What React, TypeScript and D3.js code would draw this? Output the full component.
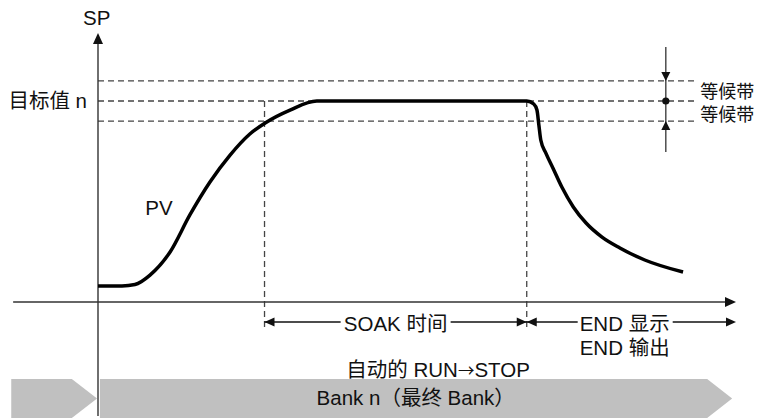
import * as d3 from 'd3'

// PV curve (time units, SP units)
const pvTime = [0, 3.76, 5.8, 8.15, 11.3, 14.4, 17.55, 20.7, 23.8, 26.2, 30.1, 34.3,
  67.2, 68.3, 68.8, 69.1, 69.4, 70.2, 71.3, 72.7, 74.5, 76.5, 79.0, 81.8, 85.7, 91.7]
const pvValue = [8, 8, 8.7, 13.4, 24.9, 43.3, 59.7, 73.1, 83.6, 89.1, 95.5, 100,
  100, 98.5, 95.5, 88.1, 80.6, 74.1, 66.7, 57.2, 47.3, 39.3, 32.3, 26.9, 20.9, 14.9]

const target = 100
const bandWidth = 10
const soakStart = 26.1
const soakEnd = 67.2
const timeEnd = 100
const bandLabels = ['等候带', '等候带']
const phaseLabels = ['SOAK 时间', 'END 显示', 'END 输出']
const autoStop = ['自动的 RUN', '→', 'STOP']
const bankLabel = 'Bank n（最终 Bank）'

const W = 764
const H = 418
const FONT = '"Liberation Sans", Arial, "Noto Sans CJK SC", sans-serif'
const CJK = '"Noto Sans CJK SC", sans-serif'
const FS = 20.5

const x = d3.scaleLinear().domain([0, 100]).range([98, 736])
const y = d3.scaleLinear().domain([0, 100]).range([302, 101])

// triangle with its tip at (tx, ty) pointing in direction dir
const arrow = (tx: number, ty: number, dir: 'l' | 'r' | 'u' | 'd', len = 10, half = 4.5) => {
  const pts: [number, number][] =
    dir === 'r' ? [[tx, ty], [tx - len, ty - half], [tx - len, ty + half]]
    : dir === 'l' ? [[tx, ty], [tx + len, ty - half], [tx + len, ty + half]]
    : dir === 'u' ? [[tx, ty], [tx - half, ty + len], [tx + half, ty + len]]
    : [[tx, ty], [tx - half, ty - len], [tx + half, ty - len]]
  return <polygon points={pts.map(p => p.join(',')).join(' ')} fill="#111" />
}

const App = () => {
  const line = d3.line<number>()
    .x((_, i) => x(pvTime[i]))
    .y(d => y(d))
    .curve(d3.curveMonotoneX)

  const bands = [target + bandWidth, target, target - bandWidth]
  const dashEnd = x(93.6)
  const markX = x(89)
  const arrowY = 322
  const bannerTop = 379
  const bannerBot = 418
  const bannerMid = (bannerTop + bannerBot) / 2
  const tip = 25
  const soakMid = (x(soakStart) + x(soakEnd)) / 2
  const endX = x(75.5)

  return (
    <svg width={W} height={H} style={{ position: 'absolute', left: 0, top: 0, background: '#fff' }}
      fontFamily={FONT} fontSize={FS}>
      {/* bank banner */}
      <polygon fill="#c0c0c0" points={[
        [x(-13.6), bannerTop], [x(-4.1), bannerTop], [x(-0.15), bannerMid], [x(-4.1), bannerBot], [x(-13.6), bannerBot],
      ].map(p => p.join(',')).join(' ')} />
      <polygon fill="#c0c0c0" points={[
        [x(0.3), bannerTop], [x(99.4) - tip, bannerTop], [x(99.4), bannerMid], [x(99.4) - tip, bannerBot], [x(0.3), bannerBot],
      ].map(p => p.join(',')).join(' ')} />
      <text x={x(49.8)} y={405} textAnchor="middle" fill="#111">{bankLabel}</text>

      {/* dashed band lines */}
      {bands.map((b, i) => (
        <line key={i} x1={x(0)} x2={dashEnd} y1={y(b)} y2={y(b)} stroke="#444" strokeWidth={1.3} strokeDasharray="6 4" />
      ))}
      <line x1={x(soakStart)} x2={x(soakStart)} y1={y(target)} y2={arrowY + 6} stroke="#444" strokeWidth={1.3} strokeDasharray="6 4" />
      <line x1={x(soakEnd)} x2={x(soakEnd)} y1={y(target)} y2={arrowY + 6} stroke="#444" strokeWidth={1.3} strokeDasharray="6 4" />

      {/* axes */}
      <line x1={x(-13.3)} x2={x(timeEnd) - 6} y1={y(0)} y2={y(0)} stroke="#333" strokeWidth={1.4} />
      {arrow(x(timeEnd), y(0), 'r', 11, 5)}
      <line x1={x(0)} x2={x(0)} y1={416} y2={y(133.8) + 6} stroke="#333" strokeWidth={1.4} />
      {arrow(x(0), y(133.8), 'u', 11, 5)}
      <text x={x(-0.2)} y={25} textAnchor="middle" fill="#111">SP</text>
      <text x={x(0) - 11} y={y(target) + 7} textAnchor="end" fill="#111">目标值 n</text>

      {/* PV curve */}
      <path d={line(pvValue) ?? ''} fill="none" stroke="#000" strokeWidth={3.5} strokeLinejoin="round" />
      <text x={x(7.4)} y={215} fill="#111">PV</text>

      {/* band marker */}
      <line x1={markX} x2={markX} y1={y(126.9)} y2={y(74.6)} stroke="#333" strokeWidth={1.3} />
      {arrow(markX, y(target + bandWidth), 'd', 9, 4.5)}
      {arrow(markX, y(target - bandWidth), 'u', 9, 4.5)}
      <circle cx={markX} cy={y(target)} r={3.6} fill="#111" />
      <text x={x(94.4)} y={y(target + bandWidth / 2) + 7} fontSize={18} fill="#111">{bandLabels[0]}</text>
      <text x={x(94.4)} y={y(target - bandWidth / 2) + 10} fontSize={18} fill="#111">{bandLabels[1]}</text>

      {/* SOAK / END arrows */}
      <line x1={x(soakStart)} x2={x(timeEnd) - 4} y1={arrowY} y2={arrowY} stroke="#111" strokeWidth={1.3} />
      <rect x={soakMid - 55} y={arrowY - 4} width={110} height={8} fill="#fff" />
      <rect x={endX - 2} y={arrowY - 4} width={95} height={8} fill="#fff" />
      {arrow(x(soakStart), arrowY, 'l')}
      {arrow(x(soakEnd), arrowY, 'r')}
      {arrow(x(soakEnd), arrowY, 'l')}
      {arrow(x(timeEnd), arrowY, 'r')}
      <text x={soakMid} y={arrowY + 9} textAnchor="middle" fill="#111">{phaseLabels[0]}</text>
      <text x={endX} y={arrowY + 9} fill="#111">{phaseLabels[1]}</text>
      <text x={endX} y={355} fill="#111">{phaseLabels[2]}</text>
      <text x={x(53.3)} y={377} textAnchor="middle" fill="#111">
        {autoStop[0]}<tspan fontFamily={CJK} fontSize={FS - 4}>{autoStop[1]}</tspan>{autoStop[2]}
      </text>
    </svg>
  )
}

export default App
